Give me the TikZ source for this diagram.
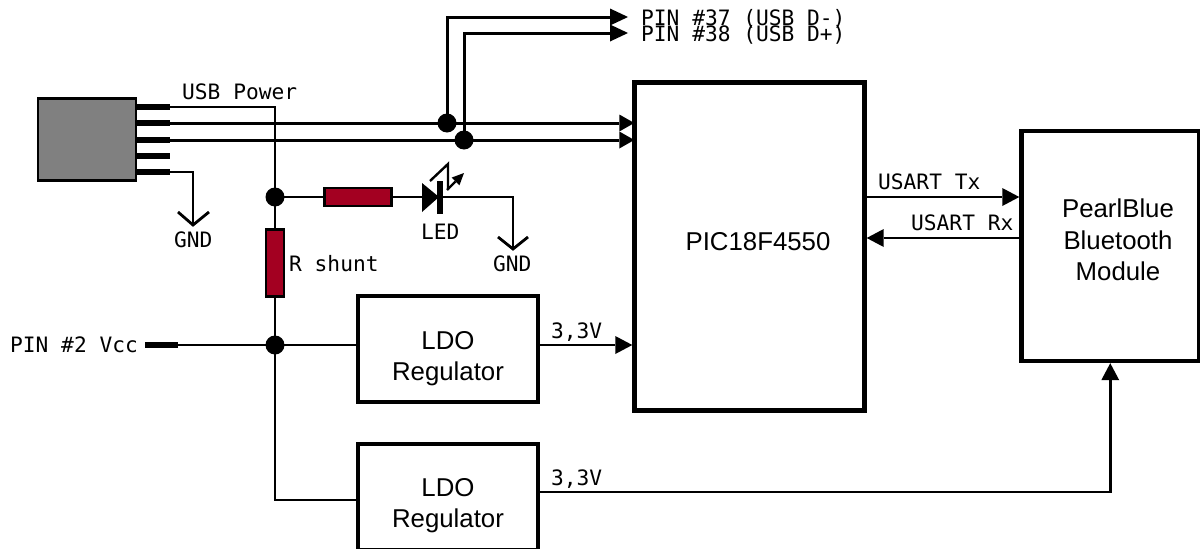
\documentclass[tikz,border=0pt]{standalone}
\usepackage{fontspec}
\setmainfont{Liberation Sans}
\setmonofont{DejaVu Sans Mono}
\usetikzlibrary{arrows.meta}
\tikzset{
  x=1pt,y=-1pt,
  wire/.style={line width=2.8pt,line join=miter},
  busw/.style={line width=3pt},
  arr/.style={wire,-{Triangle[length=17pt,width=18pt,line width=0pt]}},
  arrb/.style={busw,-{Triangle[length=18pt,width=17pt,line width=0pt]}},
  arrc/.style={busw,shorten >=-2pt,-{Triangle[length=15pt,width=17pt,line width=0pt]}},
  lbl/.style={font=\fontsize{21.2}{21}\selectfont\ttfamily,inner sep=0pt,anchor=base west},
  block/.style={draw,line width=4.4pt,fill=white,inner sep=0pt},
  btxt/.style={font=\fontsize{25.8}{31.5}\selectfont,align=center,inner sep=0pt},
  res/.style={draw,line width=2.4pt,fill={rgb,255:red,163;green,0;blue,33},inner sep=0pt},
  dot/.style={circle,fill=black,inner sep=0pt,minimum size=19pt},
  pin/.style={line width=6pt},
  gnd/.style={line width=2.8pt},
}
\begin{document}
\begin{tikzpicture}
\useasboundingbox (0,0) rectangle (1200,549);
% junction coordinates
\coordinate (jp) at (275,197);
\coordinate (jv) at (275,345);
\coordinate (j1) at (447,123);
\coordinate (j2) at (464,140);
% connector
\node[draw,line width=2.6pt,fill={rgb,255:red,128;green,128;blue,128},minimum width=98pt,minimum height=82pt,inner sep=0pt] (conn) at (87,139.5) {};
% blocks
\node[block,minimum width=230pt,minimum height=328pt] (pic) at (749.5,246.5) {};
\node[block,minimum width=177.5pt,minimum height=230pt] (bt) at (1110.25,246) {};
\node[block,minimum width=180pt,minimum height=106pt] (ldoa) at (448,349) {};
\node[block,minimum width=180pt,minimum height=106pt] (ldob) at (448,497) {};
\node[btxt] (pict) at (758,242) {PIC18F4550};
\node[btxt] (btt) at (1118,240) {PearlBlue\\Bluetooth\\Module};
\node[btxt] (ldoat) at (448,358.5) {LDO\\Regulator};
\node[btxt] (ldobt) at (448,505.5) {LDO\\Regulator};
% pin stubs
\foreach \n/\y in {a/107,b/123,c/140,d/156,e/172}{
  \coordinate (s\n) at (136,\y);
  \coordinate (t\n) at (170,\y);
  \draw[pin] (s\n) -- (t\n);
}
% usb power wire
\draw[wire] (ta) -- (jp |- ta) -- (jp);
\draw[wire] (jp) -- (jv);
\draw[wire] (jv) -- (jv |- 0,500) -- (ldob.west |- 0,500);
\draw[wire] (jv) -- (ldoa.west |- jv);
% data
\draw[arrc] (tb) -- (pic.west |- tb);
\draw[arrc] (tc) -- (pic.west |- tc);
\draw[arrb] (j1) -- (447,17) -- (628,17);
\draw[arrb] (j2) -- (464,33) -- (628,33);
\node[dot] (dj1) at (j1) {};
\node[dot] (dj2) at (j2) {};
% GND 1
\coordinate (g1) at (193,225);
\draw[wire] (te) -- (193,172) -- (g1);
\draw[gnd] (178,212) -- (g1) -- (209,212);
\node[lbl] (gt1) at (174,247) {GND};
% LED branch
\node[dot] (djp) at (jp) {};
\node[dot] (djv) at (jv) {};
\node[res,minimum width=67pt,minimum height=18pt] (r1) at (358,197) {};
\draw[wire] (jp) -- (r1.west);
\coordinate (la) at (423,197);
\coordinate (lk) at (440,197);
\draw[wire] (r1.east) -- (la);
\fill (422,183) -- (439,197) -- (422,212) -- cycle;
\draw[line width=6pt] (440,181) -- (440,214);
\coordinate (g2) at (513,249);
\draw[wire] (lk) -- (513,197) -- (g2);
\draw[gnd] (498,237) -- (g2) -- (528,237);
\node[lbl] (gt2) at (493,271) {GND};
\node[lbl] (ledt) at (421,239) {LED};
\draw[line width=2.4pt] (430,181) -- (448,164) -- (448,190);
\draw[line width=2.4pt,-{Triangle[length=12pt,width=11pt,line width=0pt]}] (447,190) -- (464,173);
% shunt
\node[res,minimum width=18pt,minimum height=67pt] (r2) at (275,263) {};
\node[lbl] (rt) at (289,271) {R shunt};
\node[lbl] (up) at (182,99) {USB Power};
% vcc
\node[lbl] (vcc) at (10,352) {PIN \#2 Vcc};
\coordinate (va) at (145,345);
\coordinate (vb) at (178,345);
\draw[pin] (va) -- (vb);
\draw[wire] (vb) -- (jv);
% 3.3 outputs
\draw[arr] (ldoa.east |- jv) -- (pic.west |- jv);
\node[lbl] (v1) at (551,338) {3,3V};
\draw[arr] (ldob.east |- 0,492) -- (bt.south |- 0,492) -- (bt.south);
\node[lbl] (v2) at (551,485) {3,3V};
% usart
\draw[arr] (pic.east |- 0,197) -- (bt.west |- 0,197);
\draw[arr] (bt.west |- 0,238) -- (pic.east |- 0,238);
\node[lbl] (tx) at (878,189) {USART Tx};
\node[lbl] (rx) at (911,230) {USART Rx};
% pins
\node[lbl] (p37) at (641,25) {PIN \#37 (USB D-)};
\node[lbl] (p38) at (641,41) {PIN \#38 (USB D+)};
\end{tikzpicture}
\end{document}
